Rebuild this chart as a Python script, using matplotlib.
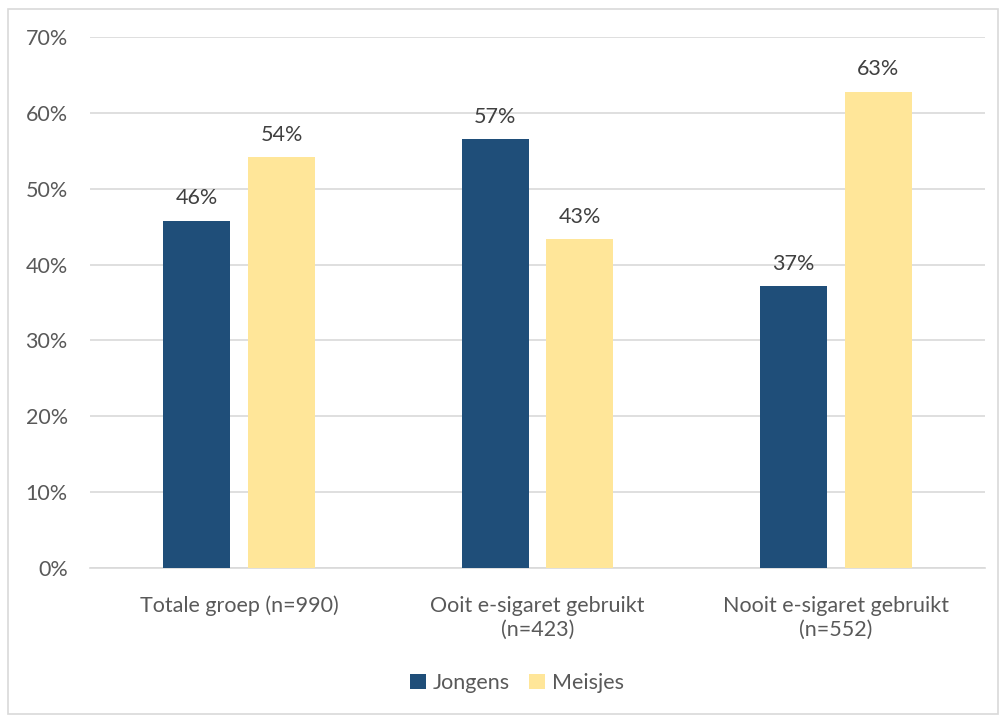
import numpy as np
import matplotlib.pyplot as plt
from matplotlib.patches import Rectangle

plt.rcParams['font.family'] = ['Lato', 'DejaVu Sans']

categories = ["Totale groep (n=990)", "Ooit e-sigaret gebruikt\n(n=423)", "Nooit e-sigaret gebruikt\n(n=552)"]
jongens = [45.8, 56.6, 37.2]
meisjes = [54.2, 43.4, 62.8]
yticks = [0, 10, 20, 30, 40, 50, 60, 70]

c_j = "#1f4e79"
c_m = "#ffe699"
txt = "#595959"
fs = 15.5

fig = plt.figure(figsize=(10.02, 7.15), dpi=100)
ax = fig.add_axes([90 / 1002, 1 - 568 / 715, 895 / 1002, 531 / 715])

x = np.arange(len(categories))
w = 67 / 298.5
off = (67 / 2 + 9) / 298.5
b1 = ax.bar(x - off, jongens, w, color=c_j, label="Jongens", zorder=3)
b2 = ax.bar(x + off, meisjes, w, color=c_m, label="Meisjes", zorder=3)

for bars, vals in [(b1, jongens), (b2, meisjes)]:
    for b, v in zip(bars, vals):
        ax.text(b.get_x() + b.get_width() / 2, v + 1.6, f"{round(v)}%",
                ha="center", va="bottom", fontsize=fs, color="#404040")

ax.set_xlim(-0.5, 2.5)
ax.set_ylim(0, 70)
ax.set_yticks(yticks)
ax.set_yticklabels([f"{t}%" for t in yticks])
ax.set_xticks(x)
ax.set_xticklabels(categories, linespacing=1.25)
ax.tick_params(axis="both", length=0, labelsize=fs, colors=txt)
ax.tick_params(axis="y", pad=16)
ax.tick_params(axis="x", pad=20)
ax.grid(axis="y", color="#d9d9d9", linewidth=1.2, zorder=0)
for s in ["top", "right", "left"]:
    ax.spines[s].set_visible(False)
ax.spines["bottom"].set_color("#d9d9d9")
ax.spines["bottom"].set_linewidth(1.2)

fig.legend(handles=[b1, b2], loc="center", bbox_to_anchor=(517 / 1002, 1 - 683 / 715),
           ncol=2, frameon=False, fontsize=fs, labelcolor=txt,
           handlelength=0.75, handleheight=0.75, handletextpad=0.3, columnspacing=0.9)

fig.patches.append(Rectangle((8 / 1002, 0.002), 990 / 1002, 1 - 10 / 715, transform=fig.transFigure,
                             fill=False, edgecolor="#d9d9d9", linewidth=1.2))

fig.savefig("out.png", dpi=100)
